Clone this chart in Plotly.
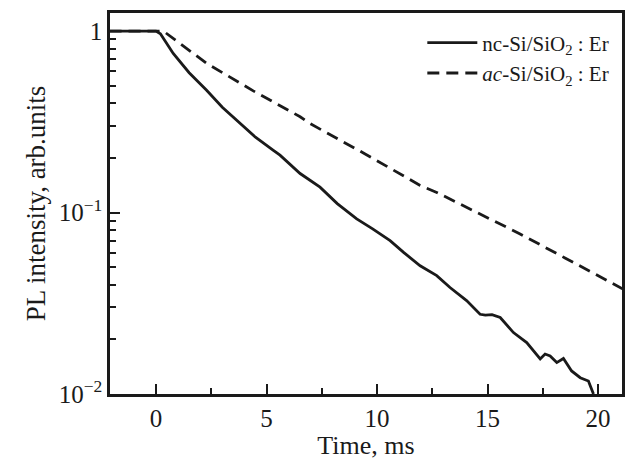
import plotly.graph_objects as go

# nc-Si/SiO2:Er (solid)
nc_time = [-2.1, -1.0, 0.0, 0.2, 0.78, 1.5, 2.29, 3.0, 3.8, 4.5, 5.31, 5.61, 6.52, 7.42, 8.2,
           9.08, 9.8, 10.59, 11.2, 11.95, 12.7, 13.3, 14.05, 14.66, 14.9, 15.2, 15.57, 16.17,
           16.77, 17.38, 17.6, 17.83, 18.13, 18.43, 18.8, 19.19, 19.56, 19.79]
nc_intensity = [1.0, 1.0, 1.0, 0.966, 0.753, 0.589, 0.472, 0.380, 0.309, 0.260, 0.220, 0.207,
                0.164, 0.138, 0.112, 0.0923, 0.0813, 0.0700, 0.0603, 0.0509, 0.0449, 0.0386,
                0.0327, 0.0275, 0.0272, 0.0274, 0.0264, 0.0218, 0.0192, 0.0156, 0.0166,
                0.0162, 0.0149, 0.0157, 0.0134, 0.0123, 0.0118, 0.0100]

# ac-Si/SiO2:Er (dashed)
ac_time = [-2.1, 0.0, 0.33, 2.29, 4.4, 6.52, 6.97, 9.5, 11.95, 12.7, 14.5, 16.47, 18.5, 20.9, 21.1]
ac_intensity = [1.0, 1.0, 1.0, 0.664, 0.468, 0.337, 0.309, 0.209, 0.141, 0.129, 0.100, 0.0762,
                0.0562, 0.0390, 0.0380]

x_ticks = [0, 5, 10, 15, 20]
x_minor = [2.5, 7.5, 12.5, 17.5]
y_ticks = [0.01, 0.1, 1]
y_ticktext = ["10<sup>\u22122</sup>", "10<sup>\u22121</sup>", "1"]
y_minor = [m * d for d in (0.01, 0.1) for m in range(2, 10)]

FONT = "Liberation Serif, Times New Roman, serif"
INK = "#1a1a1a"

fig = go.Figure()
fig.add_trace(go.Scatter(x=nc_time, y=nc_intensity, mode="lines",
                         line=dict(color=INK, width=2.8),
                         name="nc-Si/SiO<sub>2</sub> : Er"))
fig.add_trace(go.Scatter(x=ac_time, y=ac_intensity, mode="lines",
                         line=dict(color=INK, width=2.8, dash="12px,7px"),
                         name="<i>ac</i>-Si/SiO<sub>2</sub> : Er"))

fig.update_layout(
    width=629, height=460,
    margin=dict(l=110, r=7, t=13, b=66),
    paper_bgcolor="white", plot_bgcolor="white",
    font=dict(family=FONT, size=21, color=INK),
    showlegend=True,
    legend=dict(x=0.985, y=0.975, xanchor="right", yanchor="top",
                bgcolor="rgba(0,0,0,0)", font=dict(size=21),
                itemwidth=50, tracegroupgap=0),
    xaxis=dict(range=[-2.08, 21.08], showgrid=False, zeroline=False, automargin=False,
               showline=True, linecolor=INK, linewidth=2.5, mirror=True,
               tickmode="array", tickvals=x_ticks, ticks="inside", ticklen=10,
               tickwidth=1.5, tickcolor=INK, tickfont=dict(size=25),
               minor=dict(tickmode="array", tickvals=x_minor, ticks="inside",
                          ticklen=6, tickwidth=1.5, tickcolor=INK),
               title=dict(text="Time, ms", standoff=2, font=dict(size=26))),
    yaxis=dict(type="log", range=[-2, 0.0994], showgrid=False, zeroline=False, automargin=False,
               showline=True, linecolor=INK, linewidth=2.5, mirror=True,
               tickmode="array", tickvals=y_ticks, ticktext=y_ticktext,
               ticks="inside", ticklen=10, tickwidth=1.5, tickcolor=INK,
               tickfont=dict(size=25),
               minor=dict(tickmode="array", tickvals=y_minor, ticks="inside",
                          ticklen=6, tickwidth=1.5, tickcolor=INK),
               title=dict(text="PL intensity, arb.units", standoff=6, font=dict(size=27))),
)

fig.write_html("out.html", config={"displayModeBar": False},
               post_script="document.body.style.margin='0';document.body.style.overflow='hidden';")
